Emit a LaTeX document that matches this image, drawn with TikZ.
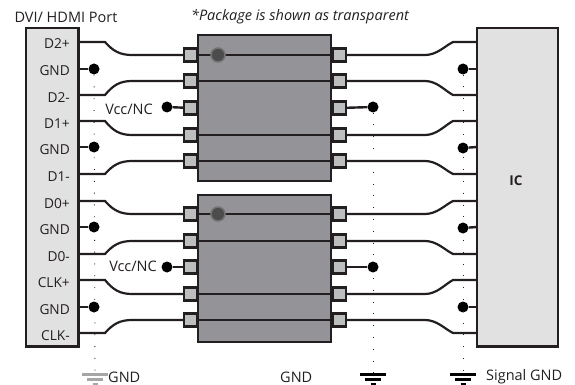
\documentclass[tikz,border=0pt]{standalone}
\usepackage{fontspec}
\setmainfont{Open Sans}
\definecolor{boxgray}{HTML}{E1E1E2}
\definecolor{pkggray}{HTML}{949398}
\definecolor{padgray}{HTML}{BDBEC0}
\definecolor{inkgray}{HTML}{231F20}
\tikzset{
  x=1pt,y=-1pt,
  endbox/.style={draw=inkgray,line width=2.5pt,fill=boxgray,rectangle,minimum width=#1,minimum height=318.5pt,inner sep=0pt,outer sep=0pt,anchor=north west},
  package/.style={draw=inkgray,line width=2.5pt,fill=pkggray,rectangle,minimum width=133pt,minimum height=#1,inner sep=0pt,outer sep=0pt,anchor=north west},
  pad/.style={draw=inkgray,line width=2.3pt,fill=padgray,rectangle,minimum width=12.5pt,minimum height=13pt,inner sep=0pt,outer sep=0pt},
  wire/.style={draw=inkgray,line width=2.2pt},
  stub/.style={draw=inkgray,line width=2.4pt},
  blob/.style={circle,fill=black,minimum size=11pt,inner sep=0pt},
  via/.style={circle,draw=black!55,line width=1.5pt,fill=black!70,minimum size=14pt,inner sep=0pt},
  pinlabel/.style={font=\fontsize{13.7}{15}\selectfont,text=inkgray,anchor=east,inner sep=0pt},
  caption/.style={font=\fontsize{14.5}{16}\selectfont,text=inkgray,inner sep=0pt},
  gndtrace/.style={line width=0.9pt,dash pattern=on 0.9pt off 10.9pt,draw=inkgray},
  gndbar/.style={line width=3pt,draw=#1},
}
\begin{document}
\begin{tikzpicture}
  \useasboundingbox (0,0) rectangle (575,385);

  % dotted traces down to the ground symbols
  \coordinate (gl) at (95,374);
  \coordinate (gm) at (373,374);
  \coordinate (gr) at (463,374);
  \node[blob] (dl1) at (94,69) {};
  \node[blob] (dl2) at (94,147) {};
  \node[blob] (dl3) at (94,227) {};
  \node[blob] (dl4) at (94,307) {};
  \node[blob] (dr1) at (463,69) {};
  \node[blob] (dr2) at (463,148) {};
  \node[blob] (dr3) at (463,228) {};
  \node[blob] (dr4) at (463,307) {};
  \node[blob] (vl1) at (167,107) {};
  \node[blob] (vl2) at (167,267) {};
  \node[blob] (vr1) at (373,107) {};
  \node[blob] (vr2) at (373,267) {};
  \draw[gndtrace] (dl1) -- (gl);
  \draw[gndtrace] (vr1) -- (gm);
  \draw[gndtrace] (dr1) -- (gr);

  % boxes
  \node[endbox=52.5pt] (port) at (26.2,28.2) {};
  \node[endbox=80.6pt] (ic) at (477.2,28.2) {};
  \node[package=146pt] (pkga) at (198.2,35.2) {};
  \node[package=147pt] (pkgb) at (198.2,195.2) {};

  % pads, with the lines through the package
  \foreach \n/\y in {1/55,2/81,3/108,4/135,5/161,6/214,7/241,8/267,9/294,10/320} {
    \node[pad] (pl\n) at (190.5,\y) {};
    \node[pad] (pr\n) at (339.5,\y) {};
  }
  \foreach \n in {1,2,4,5,6,7,9,10}
    \draw[wire] (pl\n.east) -- (pr\n.west);

  % wires, port side and IC side
  \foreach \n/\y/\z in {1/42/55,2/95/81,4/121/135,5/174/161,6/201/214,7/254/241,9/280/294,10/333/320} {
    \coordinate (a\n) at (79,\y);
    \coordinate (d\n) at (477,\y);
    \draw[wire] (a\n) -- (105,\y) .. controls (113,{\y+0.7*(\z-\y)}) and (120,\z) .. (132,\z) -- (pl\n.west);
    \draw[wire] (pr\n.east) -- (425,\z) .. controls (437,\z) and (445,{\y+0.3*(\z-\y)}) .. (453,\y) -- (d\n);
  }

  % short stubs
  \foreach \n/\y in {1/69,2/147,3/227,4/307} {
    \draw[stub] (dl\n) -- (79,\y);
    \draw[stub] (dr\n) -- (477,\y);
  }
  \draw[stub] (vl1) -- (pl3);
  \draw[stub] (vl2) -- (pl8);
  \draw[stub] (vr1) -- (pr3);
  \draw[stub] (vr2) -- (pr8);

  \node[via] (via1) at (218,55) {};
  \node[via] (via2) at (218,214) {};

  % ground symbols
  \draw[gndbar=gray!70,shift={(gl)}] (-13,0) -- (13,0) (-8,5.5) -- (8,5.5) (-2.5,10.5) -- (2.5,10.5);
  \draw[gndbar=black,shift={(gm)}] (-13,0) -- (13,0) (-8,5.5) -- (8,5.5) (-2.5,10.5) -- (2.5,10.5);
  \draw[gndbar=black,shift={(gr)}] (-13,0) -- (13,0) (-8,5.5) -- (8,5.5) (-2.5,10.5) -- (2.5,10.5);

  % pin labels
  \foreach \t/\y in {D2+/44,GND/71,D2-/98,D1+/124,GND/150,D1-/177,D0+/204,GND/230,D0-/257,CLK+/283,GND/310,CLK-/336}
    \node[pinlabel] at (70,\y) {\t};

  \node[caption] (portlab) at (66,17) {DVI/ HDMI Port};
  \node[caption] (note) at (300,17) {\itshape *Package is shown as transparent};
  \node[caption,anchor=east] (vcca) at (153,109) {Vcc/NC};
  \node[caption,anchor=east] (vccb) at (157,266) {Vcc/NC};
  \node[caption,font=\fontsize{13.5}{15}\selectfont\bfseries] (iclab) at (516,181) {IC};
  \node[caption,anchor=west] (gndl) at (108,377) {GND};
  \node[caption,anchor=west] (gndm) at (280,377) {GND};
  \node[caption,anchor=west] (sgnd) at (486,377) {Signal GND};
\end{tikzpicture}
\end{document}
